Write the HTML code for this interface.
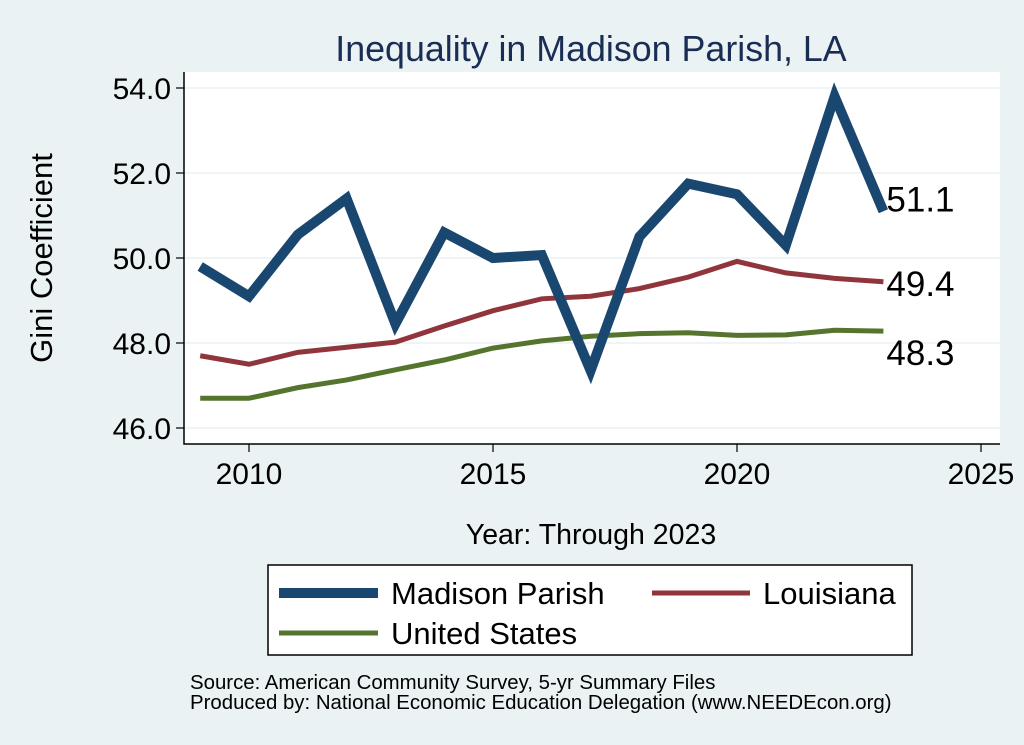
<!DOCTYPE html>
<html><head><meta charset="utf-8"><style>
body{margin:0;background:#eaf2f3;font-family:"Liberation Sans",sans-serif}
svg{display:block}
</style></head><body>
<svg width="1024" height="745">
<rect width="1024" height="745" fill="#eaf2f3"/>
<text x="591" y="61" font-size="35.8" fill="#1a2e55" text-anchor="middle">Inequality in Madison Parish, LA</text>
<rect x="184" y="72" width="816" height="372" fill="#fff"/>
<g id="grid"></g><g id="axes"></g><g id="series"></g>
<text transform="translate(52,258) rotate(-90)" font-size="31" text-anchor="middle" fill="#000">Gini Coefficient</text>
<text x="591" y="544" font-size="28.5" text-anchor="middle">Year: Through 2023</text>
<g>
<rect x="268" y="565" width="644" height="90" fill="#fff" stroke="#000" stroke-width="1.5"/>
<line x1="279" y1="593" x2="378" y2="593" stroke="#1a476f" stroke-width="10"/>
<text x="391" y="604" font-size="31">Madison Parish</text>
<line x1="652" y1="593" x2="750" y2="593" stroke="#90353b" stroke-width="5"/>
<text x="763" y="604" font-size="31">Louisiana</text>
<line x1="279" y1="633" x2="378" y2="633" stroke="#55752f" stroke-width="5"/>
<text x="391" y="644" font-size="31">United States</text>
</g>
<text x="190" y="689" font-size="20.4">Source: American Community Survey, 5-yr Summary Files</text>
<text x="190" y="709" font-size="20.4">Produced by: National Economic Education Delegation (www.NEEDEcon.org)</text>
</svg>
<script>
const years=[2009,2010,2011,2012,2013,2014,2015,2016,2017,2018,2019,2020,2021,2022,2023];
const madison=[49.8,49.1,50.55,51.4,48.45,50.6,50.0,50.07,47.35,50.5,51.75,51.5,50.3,53.8,51.1];
const louisiana=[47.7,47.5,47.78,47.9,48.02,48.4,48.76,49.04,49.1,49.28,49.55,49.92,49.65,49.52,49.44];
const us=[46.7,46.7,46.95,47.13,47.37,47.6,47.88,48.05,48.16,48.22,48.24,48.18,48.19,48.3,48.28];
const yTicks=[46,48,50,52,54];
const xTicks=[2010,2015,2020,2025];
const NS="http://www.w3.org/2000/svg";
const xs=v=>249+(v-2010)*48.8;
const ys=v=>428-(v-46)*42.5;
function mk(tag,at,parent,txt){const e=document.createElementNS(NS,tag);for(const k in at)e.setAttribute(k,at[k]);if(txt!==undefined)e.textContent=txt;document.getElementById(parent).appendChild(e);return e;}
yTicks.forEach(t=>{
 const g=mk('line',{x1:184,x2:1000,y1:ys(t),y2:ys(t),stroke:'#eaf2f3','stroke-width':1.5},'grid');
 
 
 const tk=mk('line',{x1:176,x2:184,y1:ys(t),y2:ys(t),stroke:'#000','stroke-width':1.2},'axes');
 
 
 const l=mk('text',{x:171,y:ys(t)+11,'font-size':30,'text-anchor':'end'},'axes',t.toFixed(1));
 
 
});
xTicks.forEach(t=>{
 const tk=mk('line',{x1:xs(t),x2:xs(t),y1:444,y2:452,stroke:'#000','stroke-width':1.2},'axes');
 
 
 const l=mk('text',{x:xs(t),y:484,'font-size':30,'text-anchor':'middle'},'axes',String(t));
 
 
});
const ax=mk('path',{d:'M184,72V444H1000',fill:'none',stroke:'#000','stroke-width':1.5},'axes');


function series(vals,color,w,name,labOff){
 const p=mk('polyline',{points:vals.map((v,i)=>xs(years[i])+','+ys(v)).join(' '),fill:'none',stroke:color,'stroke-width':w,'stroke-linejoin':'miter'},'series');
 
 
 const last=vals[vals.length-1];
 const t=mk('text',{x:xs(years[years.length-1])+3,y:ys(last)+labOff,'font-size':35},'series',last.toFixed(1));
 
 
}
series(us,'#55752f',5,'us',34);
series(louisiana,'#90353b',5,'louisiana',14);
series(madison,'#1a476f',10,'madison',0);
</script>
</body></html>
